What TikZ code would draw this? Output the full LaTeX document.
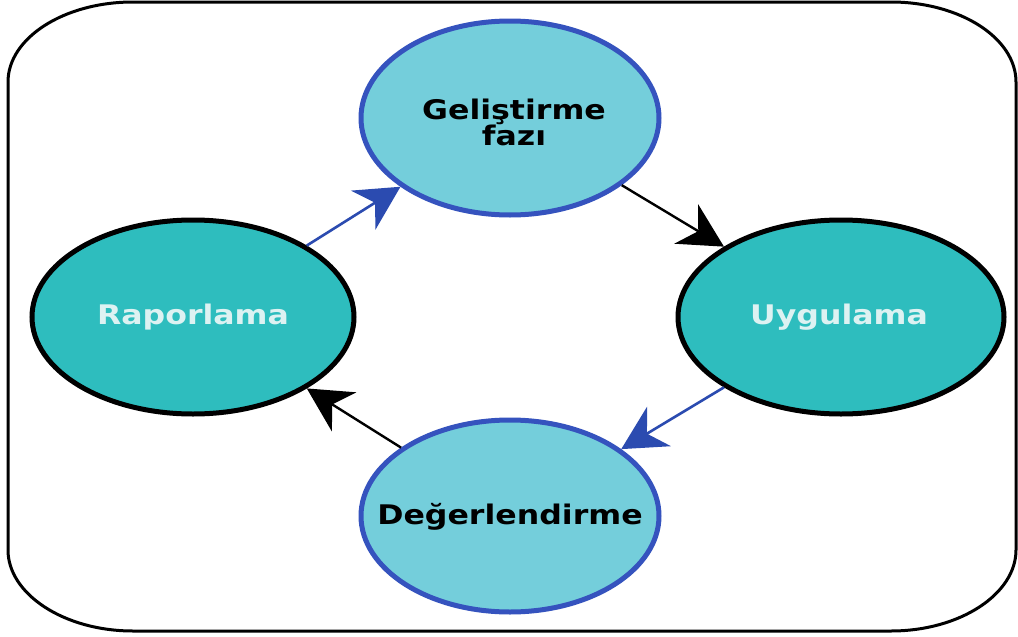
\documentclass[tikz,border=0pt]{standalone}
\usepackage{fontspec}
\setmainfont{DejaVu Sans}
\usetikzlibrary{shapes.geometric,arrows.meta}
\definecolor{lightfill}{HTML}{74CEDB}
\definecolor{blueline}{HTML}{3553BE}
\definecolor{tealfill}{HTML}{2EBDBE}
\definecolor{lighttext}{HTML}{DDF2F2}
\definecolor{arrowblue}{HTML}{2B4BB0}
\newcommand\widetext[1]{\scalebox{1.17}[1]{#1}}
\tikzset{
  phase/.style={ellipse, inner sep=0pt, line width=5pt},
  lightphase/.style={phase, draw=blueline, fill=lightfill},
  tealphase/.style={phase, draw=black, fill=tealfill},
  phasetext/.style={align=center, inner sep=0pt,
    font=\fontsize{27}{26}\selectfont\bfseries},
  darklabel/.style={phasetext, text=black},
  lightlabel/.style={phasetext, text=lighttext},
  bluearrow/.style={draw=arrowblue, line width=2.6pt,
    -{Stealth[length=44pt,width=46pt,inset=14pt]}},
  blackarrow/.style={draw=black, line width=2.4pt,
    -{Stealth[length=44pt,width=46pt,inset=14pt]}},
  frame/.style={draw=black, line width=3pt}
}
\begin{document}
\begin{tikzpicture}[x=1pt,y=-1pt]
\useasboundingbox (0,0) rectangle (1018,637);
\fill[white] (0,0) rectangle (1018,637);
\draw[frame] (8,82) .. controls (8,38) and (64,2) .. (133,2) -- (891,2)
  .. controls (960,2) and (1016,38) .. (1016,82) -- (1016,550)
  .. controls (1016,594) and (960,631) .. (891,631) -- (133,631)
  .. controls (64,631) and (8,594) .. (8,550) -- cycle;
\node[lightphase, minimum width=298pt, minimum height=194pt] (gel) at (510,118) {};
\node[tealphase, minimum width=322pt, minimum height=194pt] (rap) at (193,317) {};
\node[tealphase, minimum width=326pt, minimum height=194pt] (uyg) at (841,317) {};
\node[lightphase, minimum width=298pt, minimum height=192pt] (deg) at (510,516) {};
\node[darklabel] (gelt) at (514,122) {\widetext{Geliştirme}\\\widetext{fazı}};
\node[lightlabel] (rapt) at (193,317) {\widetext{Raporlama}};
\node[lightlabel] (uygt) at (839,317) {\widetext{Uygulama}};
\node[darklabel] (degt) at (510,517) {\widetext{Değerlendirme}};
\draw[bluearrow] (rap) -- (gel);
\draw[blackarrow] (gel) -- (uyg);
\draw[bluearrow] (uyg) -- (deg);
\draw[blackarrow] (deg) -- (rap);
\end{tikzpicture}
\end{document}
